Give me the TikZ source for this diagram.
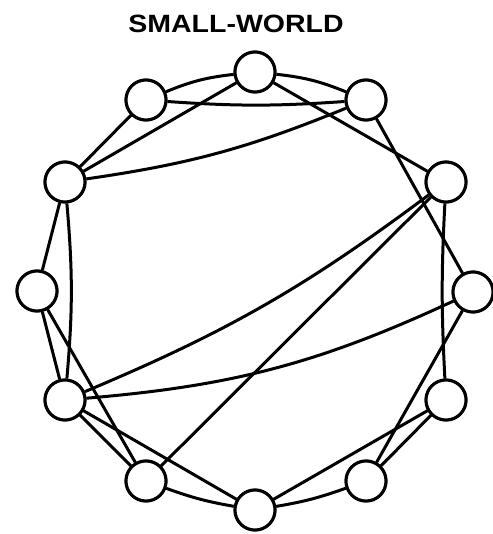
\documentclass[tikz,border=0pt]{standalone}
\usepackage{fontspec}
\setmainfont{Liberation Sans}
\begin{document}
\begin{tikzpicture}[x=1pt,y=1pt,
  vert/.style={circle,draw=black,fill=white,line width=3pt,minimum size=40pt,inner sep=0pt},
  edge/.style={draw=black,line width=3pt}]
\useasboundingbox (0,0) rectangle (492,-534);
\node[font=\bfseries\fontsize{25}{29}\selectfont] (title) at (236,-24) {\scalebox{1.14}[1]{SMALL-WORLD}};
\node[vert] (A) at (255,-72) {};
\node[vert] (B) at (146,-100) {};
\node[vert] (C) at (366,-100) {};
\node[vert] (D) at (65,-182) {};
\node[vert] (E) at (446,-182) {};
\node[vert] (F) at (37,-291) {};
\node[vert] (G) at (473,-292) {};
\node[vert] (H) at (65,-400) {};
\node[vert] (I) at (446,-400) {};
\node[vert] (J) at (146,-481) {};
\node[vert] (K) at (366,-481) {};
\node[vert] (L) at (255,-510) {};
\path[edge] (B) to[bend left=8] (A);
\path[edge] (A) to[bend left=8] (C);
\path[edge] (A) -- (D);
\path[edge] (A) -- (E);
\path[edge] (B) to[bend right=4] (C);
\path[edge] (B) -- (D);
\path[edge] (D) to[bend right=7] (C);
\path[edge] (C) -- (G);
\path[edge] (D) -- (F);
\path[edge] (D) to[bend left=5] (H);
\path[edge] (H) to[bend right=7] (E);
\path[edge] (J) -- (E);
\path[edge] (E) to[bend right=3] (I);
\path[edge] (F) -- (H);
\path[edge] (F) -- (J);
\path[edge] (H) to[bend right=10] (G);
\path[edge] (K) -- (G);
\path[edge] (H) -- (J);
\path[edge] (H) -- (L);
\path[edge] (K) -- (I);
\path[edge] (L) -- (I);
\path[edge] (J) to[bend right=5] (L);
\path[edge] (L) to[bend right=5] (K);
\foreach \n in {A,B,C,D,E,F,G,H,I,J,K,L} \node[vert] at (\n) {};
\end{tikzpicture}
\end{document}
